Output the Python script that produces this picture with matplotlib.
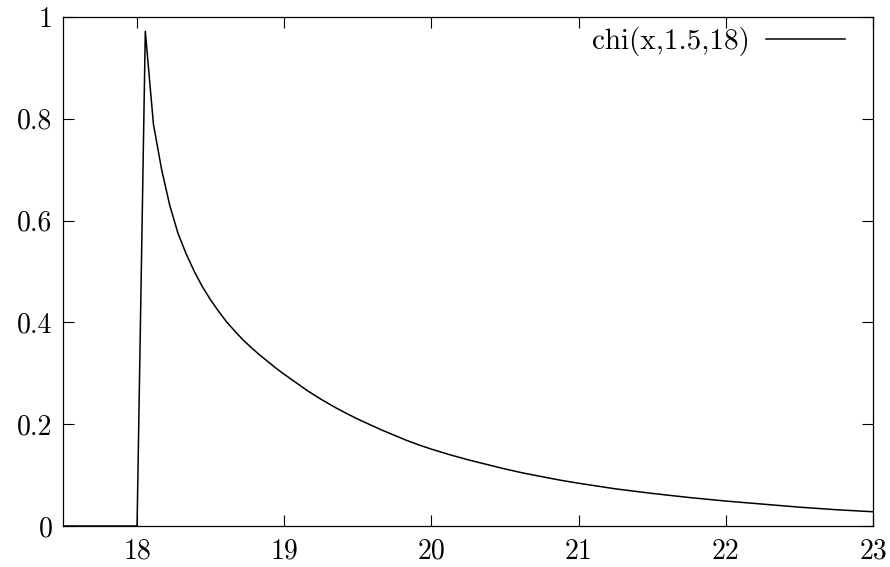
import numpy as np
import matplotlib
matplotlib.use("Agg")
import matplotlib.pyplot as plt

# values
x_vals = [17.5, 18.0, 18.056, 18.111, 18.167, 18.222, 18.278, 18.333, 18.389,
          18.444, 18.5, 18.556, 18.611, 18.667, 18.722, 18.778, 18.833, 18.889,
          18.944, 19.0, 19.083, 19.167, 19.25, 19.333, 19.417, 19.5, 19.583,
          19.667, 19.75, 19.833, 19.917, 20.0, 20.125, 20.25, 20.375, 20.5,
          20.625, 20.75, 20.875, 21.0, 21.25, 21.5, 21.75, 22.0, 22.25,
          22.5, 22.75, 23.0]
y_vals = [0.0, 0.0, 0.972, 0.79, 0.70, 0.63, 0.575, 0.535, 0.50,
          0.47, 0.444, 0.421, 0.40, 0.382, 0.365, 0.350, 0.336, 0.323,
          0.310, 0.298, 0.281, 0.264, 0.249, 0.235, 0.222, 0.21, 0.199,
          0.188, 0.178, 0.168, 0.159, 0.151, 0.14, 0.13, 0.121, 0.112,
          0.104, 0.097, 0.09, 0.084, 0.073, 0.064, 0.056, 0.049, 0.043,
          0.037, 0.032, 0.028]
series_label = "chi(x,1.5,18)"
x_ticks = [18, 19, 20, 21, 22, 23]
x_ticklabels = ["18", "19", "20", "21", "22", "23"]
y_ticks = [0, 0.2, 0.4, 0.6, 0.8, 1.0]
y_ticklabels = ["0", "0.2", "0.4", "0.6", "0.8", "1"]

plt.rcParams['font.family'] = ['cmr10', 'DejaVu Serif']
plt.rcParams['mathtext.fontset'] = 'cm'
plt.rcParams['axes.unicode_minus'] = False

fig = plt.figure(figsize=(8.9, 5.67), dpi=100)
ax = fig.add_axes([0.0713, 0.0723, 0.9097, 0.8977])

ax.plot(x_vals, y_vals, color="black", linewidth=1.1, label=series_label)

ax.set_xlim(17.5, 23)
ax.set_ylim(0, 1)
ax.set_xticks(x_ticks)
ax.set_xticklabels(x_ticklabels)
ax.set_yticks(y_ticks)
ax.set_yticklabels(y_ticklabels)

ax.tick_params(direction="in", length=8, width=0.8, labelsize=20,
               top=True, right=True)
ax.tick_params(axis="x", pad=9)
ax.tick_params(axis="y", pad=8)
for s in ax.spines.values():
    s.set_linewidth(0.9)

ax.legend(loc="upper right", bbox_to_anchor=(0.99, 1.02), frameon=False,
          markerfirst=False, handlelength=2.7, handletextpad=0.55,
          fontsize=21, borderaxespad=0.3)

fig.savefig("out.png", dpi=100)
